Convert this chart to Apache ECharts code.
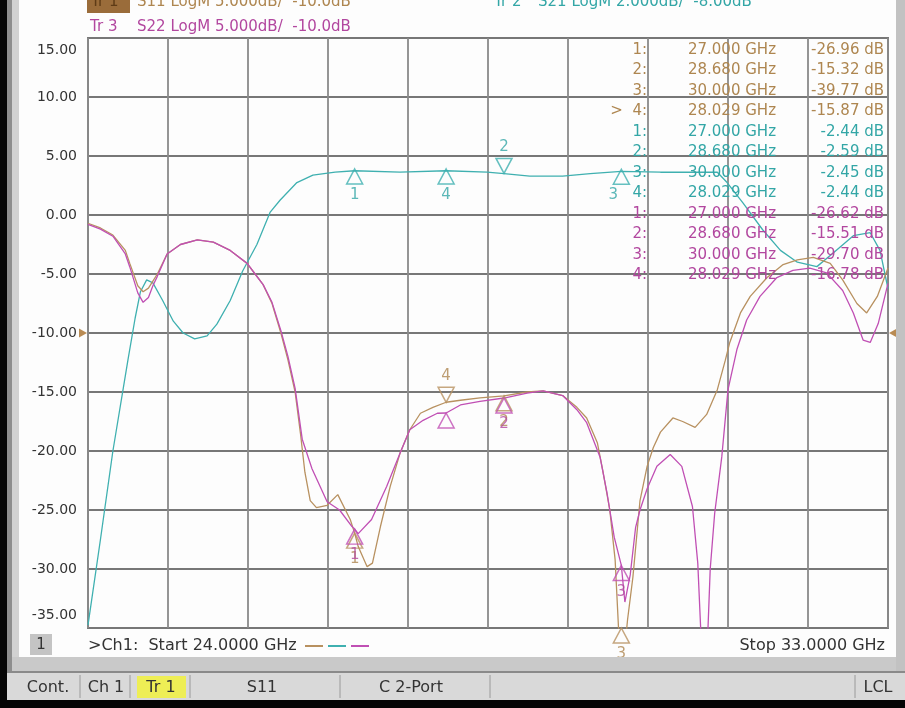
<!DOCTYPE html>
<html><head><meta charset="utf-8">
<script src="https://cdn.jsdelivr.net/npm/echarts@6/dist/echarts.min.js"></script>
<style>html,body{margin:0;padding:0;background:#000;}#c{width:905px;height:708px;}</style>
</head><body><div id="c"></div>
<script>
// ---------- data ----------
const startGHz = 24, stopGHz = 33;
const yTicksLeft = { min: -35, max: 15, step: 5 };      // S11/S22: 5 dB/div
const yTicksRight = { min: -18, max: 2, step: 2 };      // S21: 2 dB/div, ref -8 dB

const s11Freq = [24.00,24.14,24.28,24.42,24.47,24.56,24.62,24.68,24.73,24.78,24.89,25.04,25.23,25.41,25.60,25.79,25.88,25.97,26.07,26.17,26.25,26.33,26.39,26.44,26.50,26.57,26.69,26.81,26.95,27.00,27.04,27.14,27.20,27.29,27.40,27.51,27.62,27.74,27.88,28.029,28.19,28.41,28.68,28.94,29.12,29.34,29.50,29.61,29.73,29.79,29.87,29.93,30.00,30.07,30.13,30.21,30.29,30.36,30.44,30.58,30.69,30.83,30.96,31.08,31.17,31.22,31.34,31.45,31.64,31.82,31.98,32.16,32.35,32.49,32.65,32.76,32.88,33.00];
const s11Db   = [-0.7,-1.1,-1.7,-3.0,-4.1,-6.0,-6.5,-6.2,-5.6,-5.0,-3.3,-2.5,-2.1,-2.3,-3.0,-4.1,-5.0,-5.9,-7.5,-10.0,-12.3,-15.0,-18.5,-21.8,-24.2,-24.8,-24.6,-23.7,-25.8,-26.96,-28.1,-29.8,-29.5,-26.4,-23.0,-20.2,-18.2,-16.8,-16.3,-15.87,-15.7,-15.5,-15.32,-15.0,-14.9,-15.3,-16.3,-17.2,-19.3,-21.6,-25.0,-29.2,-39.77,-34.3,-30.7,-24.2,-21.3,-19.7,-18.4,-17.2,-17.5,-18.0,-16.9,-14.8,-12.3,-10.8,-8.3,-6.9,-5.3,-4.2,-3.8,-3.6,-4.1,-5.5,-7.5,-8.3,-6.9,-4.5];

const s22Freq = [24.00,24.14,24.28,24.42,24.47,24.56,24.62,24.68,24.73,24.78,24.89,25.04,25.23,25.41,25.60,25.79,25.88,25.97,26.07,26.17,26.25,26.33,26.41,26.52,26.69,26.83,26.97,27.00,27.04,27.19,27.36,27.51,27.62,27.77,27.93,28.029,28.19,28.41,28.68,28.94,29.12,29.34,29.50,29.61,29.76,29.84,29.92,30.00,30.04,30.10,30.16,30.21,30.29,30.40,30.55,30.68,30.80,30.86,30.91,30.96,31.00,31.05,31.13,31.20,31.30,31.41,31.56,31.75,31.93,32.12,32.31,32.49,32.61,32.72,32.80,32.89,33.00];
const s22Db   = [-0.8,-1.2,-1.8,-3.3,-4.4,-6.6,-7.4,-7.0,-6.0,-5.2,-3.3,-2.5,-2.1,-2.3,-3.0,-4.1,-5.0,-5.9,-7.4,-9.8,-12.0,-14.7,-19.0,-21.5,-24.3,-25.0,-26.4,-26.62,-27.0,-25.8,-23.0,-20.2,-18.2,-17.4,-16.8,-16.78,-16.1,-15.8,-15.51,-15.1,-14.9,-15.3,-16.5,-17.6,-20.5,-23.6,-27.3,-29.7,-32.8,-30.5,-26.5,-25.0,-23.2,-21.3,-20.3,-21.3,-24.7,-29.5,-38.0,-38.0,-30.0,-25.3,-20.5,-14.8,-11.4,-8.9,-6.9,-5.3,-4.7,-4.5,-4.9,-6.4,-8.3,-10.6,-10.8,-9.2,-5.8];

const s21Freq = [24.00,24.14,24.28,24.45,24.53,24.59,24.66,24.73,24.84,24.96,25.07,25.20,25.34,25.45,25.60,25.74,25.90,26.05,26.16,26.35,26.53,26.78,27.00,27.51,28.029,28.49,28.68,28.97,29.34,29.65,30.00,30.44,31.08,31.19,31.37,31.59,31.79,31.98,32.20,32.38,32.61,32.80,32.91,33.00];
const s21Db   = [-17.9,-15.0,-12.0,-8.9,-7.5,-6.6,-6.2,-6.3,-6.9,-7.6,-8.0,-8.2,-8.1,-7.7,-6.9,-5.9,-5.0,-3.9,-3.5,-2.9,-2.65,-2.55,-2.5,-2.55,-2.5,-2.55,-2.6,-2.68,-2.68,-2.6,-2.52,-2.55,-2.55,-2.9,-3.6,-4.5,-5.2,-5.6,-5.75,-5.3,-4.7,-4.6,-5.2,-6.5];

const markerFreq = [27.000, 28.680, 30.000, 28.029];
const s11Marker  = [-26.96, -15.32, -39.77, -15.87];
const s21Marker  = [-2.44, -2.59, -2.45, -2.44];
const s22Marker  = [-26.62, -15.51, -29.70, -16.78];

const headerS11 = ['Tr 1', 'S11 LogM 5.000dB/  -10.0dB'];
const headerS22 = ['Tr 3', 'S22 LogM 5.000dB/  -10.0dB'];
const headerS21 = ['Tr 2', 'S21 LogM 2.000dB/  -8.00dB'];
const statusItems = ['Cont.', 'Ch 1', 'Tr 1', 'S11', 'C 2-Port', 'LCL'];

// ---------- styles ----------
const C11 = '#b89160', C21 = '#3fb0b0', C22 = '#c04fb4';
const T11 = '#ae8650', T21 = '#33a6a6', T22 = '#b2479f';
const FONT = 'DejaVu Sans';
const G = { left: 88, top: 38, width: 800, height: 590 };

const chart = echarts.init(document.getElementById('c'));

const pair = (f, v) => f.map((x, i) => [x, v[i]]);
const clamp = (v, a) => Math.min(Math.max(v, a.min), a.max);

const UP = 'path://M0,0L8,15L-8,15Z';
const DOWN = 'path://M-8,0L8,0L0,15Z';

function markerSeries(vals, color, textColor, yIdx, axis, cfg) {
  return {
    type: 'scatter', yAxisIndex: yIdx, z: 5, silent: true, clip: false,
    data: markerFreq.map((f, i) => {
      const c = cfg[i];
      return {
        value: [f, clamp(vals[i], axis)],
        symbol: c.dir === 'up' ? UP : DOWN,
        symbolSize: [16, 15],
        symbolOffset: [0, c.dir === 'up' ? 7.5 : -7.5],
        label: {
          show: c.label !== false,
          formatter: String(i + 1),
          position: c.dir === 'up' ? 'bottom' : 'top',
          distance: 3,
          offset: c.offset || [0, 0],
          color: textColor, fontFamily: FONT, fontSize: 15
        }
      };
    }),
    itemStyle: { color: 'rgba(0,0,0,0)', borderColor: color, borderWidth: 1.5 }
  };
}

// ---------- graphic: frame, header, marker table, footer ----------
const els = [];
els.push({ type: 'rect', shape: { x: 0, y: 0, width: 7, height: 708 }, style: { fill: '#050505' }, z: 100 });
els.push({ type: 'rect', shape: { x: 7, y: 0, width: 5, height: 700 }, style: { fill: '#8e8e8e' }, z: 100 });
els.push({ type: 'rect', shape: { x: 12, y: 0, width: 7, height: 657 }, style: { fill: '#d2d2d2' }, z: 100 });
els.push({ type: 'rect', shape: { x: 896, y: 0, width: 9, height: 700 }, style: { fill: '#c2c2c2' }, z: 100 });
els.push({ type: 'rect', shape: { x: 12, y: 657, width: 884, height: 14 }, style: { fill: '#c9c9c9' }, z: 100 });
els.push({ type: 'rect', shape: { x: 7, y: 671, width: 898, height: 2 }, style: { fill: '#8a8a8a' }, z: 100 });
els.push({ type: 'rect', shape: { x: 7, y: 673, width: 898, height: 27 }, style: { fill: '#d9d9d9' }, z: 100 });
els.push({ type: 'rect', shape: { x: 0, y: 700, width: 905, height: 8 }, style: { fill: '#050505' }, z: 100 });
[80, 130, 190, 340, 490, 855].forEach(x => {
  els.push({ type: 'line', shape: { x1: x, y1: 675, x2: x, y2: 698 }, style: { stroke: '#9a9a9a', lineWidth: 1 }, z: 101 });
});
els.push({ type: 'rect', shape: { x: 137, y: 676, width: 49, height: 22 }, style: { fill: '#eeee55' }, z: 101 });
const statusX = [48, 106, 161, 262, 411, 878];
statusItems.forEach((t, i) => {
  els.push({ type: 'text', x: statusX[i], y: 688, z: 102,
    style: { text: t, font: '16px ' + FONT, fill: '#333', align: 'center', verticalAlign: 'middle' } });
});
// header
els.push({ type: 'rect', shape: { x: 87, y: 0, width: 43, height: 13 }, style: { fill: '#9a6c3a' }, z: 101 });
els.push({ type: 'text', x: 91, y: 2, z: 102, style: { text: headerS11[0], font: '15px ' + FONT, fill: '#5e3b16', verticalAlign: 'middle' } });
els.push({ type: 'text', x: 137, y: 2, z: 102, style: { text: headerS11[1], font: '15px ' + FONT, fill: T11, verticalAlign: 'middle' } });
els.push({ type: 'text', x: 90, y: 27, z: 102, style: { text: headerS22[0], font: '15px ' + FONT, fill: T22, verticalAlign: 'middle' } });
els.push({ type: 'text', x: 137, y: 27, z: 102, style: { text: headerS22[1], font: '15px ' + FONT, fill: T22, verticalAlign: 'middle' } });
els.push({ type: 'text', x: 494, y: 2, z: 102, style: { text: headerS21[0], font: '15px ' + FONT, fill: T21, verticalAlign: 'middle' } });
els.push({ type: 'text', x: 538, y: 2, z: 102, style: { text: headerS21[1], font: '15px ' + FONT, fill: T21, verticalAlign: 'middle' } });
// marker table
const traces = [[s11Marker, T11, true], [s21Marker, T21, false], [s22Marker, T22, false]];
let row = 0;
traces.forEach(([vals, col, active]) => {
  vals.forEach((v, i) => {
    const y = 50 + row * 20.5;
    const lab = (active && i === 3 ? '>  ' : '') + (i + 1) + ':';
    els.push({ type: 'text', x: 647, y, z: 20, style: { text: lab, font: '15px ' + FONT, fill: col, align: 'right', verticalAlign: 'middle' } });
    els.push({ type: 'text', x: 776, y, z: 20, style: { text: markerFreq[i].toFixed(3) + ' GHz', font: '15px ' + FONT, fill: col, align: 'right', verticalAlign: 'middle' } });
    els.push({ type: 'text', x: 884, y, z: 20, style: { text: v.toFixed(2) + ' dB', font: '15px ' + FONT, fill: col, align: 'right', verticalAlign: 'middle' } });
    row++;
  });
});
// footer
els.push({ type: 'rect', shape: { x: 30, y: 634, width: 22, height: 21 }, style: { fill: '#c4c4c4' }, z: 101 });
els.push({ type: 'text', x: 41, y: 645, z: 102, style: { text: '1', font: '15px ' + FONT, fill: '#333', align: 'center', verticalAlign: 'middle' } });
els.push({ type: 'text', x: 88, y: 646, z: 102, style: { text: '>Ch1:  Start ' + startGHz.toFixed(4) + ' GHz', font: '16px ' + FONT, fill: '#333', verticalAlign: 'middle' } });
[[C11, 305], [C21, 328], [C22, 351]].forEach(([c, x]) => {
  els.push({ type: 'line', shape: { x1: x, y1: 646, x2: x + 18, y2: 646 }, style: { stroke: c, lineWidth: 2 }, z: 102 });
});
els.push({ type: 'text', x: 885, y: 646, z: 102, style: { text: 'Stop ' + stopGHz.toFixed(4) + ' GHz', font: '16px ' + FONT, fill: '#333', align: 'right', verticalAlign: 'middle' } });

const option = {
  backgroundColor: '#fdfdfd',
  animation: false,
  grid: { left: G.left, top: G.top, width: G.width, height: G.height, show: true, borderColor: '#7a7a7a', borderWidth: 2, backgroundColor: 'transparent' },
  xAxis: [
    { type: 'value', min: startGHz, max: stopGHz, show: true,
      axisLine: { show: false }, axisTick: { show: false }, axisLabel: { show: false }, splitLine: { show: false } },
    { type: 'value', min: 0, max: 10, interval: 1, position: 'top',
      axisLine: { show: false }, axisTick: { show: false }, axisLabel: { show: false },
      splitLine: { show: true, lineStyle: { color: '#8a8a8a', width: 1.8 } } }
  ],
  yAxis: [
    { type: 'value', min: yTicksLeft.min, max: yTicksLeft.max, interval: yTicksLeft.step,
      axisLine: { show: false }, axisTick: { show: false },
      splitLine: { show: true, lineStyle: { color: '#777', width: 1.8 } },
      axisLabel: {
        margin: 11, color: '#333', fontFamily: FONT, fontSize: 14,
        formatter: v => v === yTicksLeft.max ? '{t|' + v.toFixed(2) + '}' : v === yTicksLeft.min ? '{b|' + v.toFixed(2) + '}' : v.toFixed(2),
        rich: {
          t: { padding: [24, 0, 0, 0], color: '#333', fontFamily: FONT, fontSize: 14 },
          b: { padding: [0, 0, 26, 0], color: '#333', fontFamily: FONT, fontSize: 14 }
        }
      } },
    { type: 'value', min: yTicksRight.min, max: yTicksRight.max, interval: yTicksRight.step, show: false, splitLine: { show: false } }
  ],
  series: [
    { name: 'S21', type: 'line', yAxisIndex: 1, data: pair(s21Freq, s21Db), showSymbol: false, lineStyle: { color: C21, width: 1.3 }, z: 3 },
    { name: 'S11', type: 'line', yAxisIndex: 0, data: pair(s11Freq, s11Db), showSymbol: false, lineStyle: { color: C11, width: 1.3 }, z: 3 },
    { name: 'S22', type: 'line', yAxisIndex: 0, data: pair(s22Freq, s22Db), showSymbol: false, lineStyle: { color: C22, width: 1.3 }, z: 4 },
    markerSeries(s21Marker, C21, T21, 1, yTicksRight, [
      { dir: 'up' }, { dir: 'down' }, { dir: 'up', offset: [-8, 0] }, { dir: 'up' }]),
    markerSeries(s11Marker, C11, T11, 0, yTicksLeft, [
      { dir: 'up' }, { dir: 'up' }, { dir: 'up' }, { dir: 'down' }]),
    markerSeries(s22Marker, C22, T22, 0, yTicksLeft, [
      { dir: 'up' }, { dir: 'up' }, { dir: 'up' }, { dir: 'up', label: false }]),
    { type: 'scatter', yAxisIndex: 0, clip: false, silent: true, z: 6,
      data: [
        { value: [startGHz, -10], symbolRotate: -90, symbolOffset: [-5, 0] },
        { value: [stopGHz, -10], symbolRotate: 90, symbolOffset: [5, 0] }
      ],
      symbol: 'triangle', symbolSize: [9, 8], itemStyle: { color: '#a86e28' } }
  ],
  graphic: { elements: els }
};
chart.setOption(option);
</script>
</body></html>
